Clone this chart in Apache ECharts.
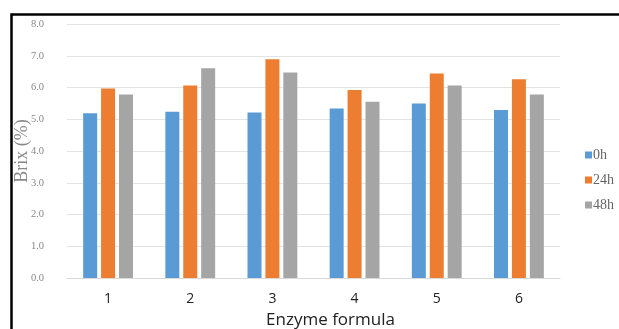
<!DOCTYPE html>
<html>
<head>
<meta charset="utf-8">
<script src="https://cdn.jsdelivr.net/npm/echarts@6/dist/echarts.min.js"></script>
<style>
  html, body { margin: 0; padding: 0; background: #fff; }
  #chart { width: 619px; height: 329px; }
</style>
</head>
<body>
<div id="chart"></div>
<script>
// Brix measured for each enzyme formula after 0, 24 and 48 hours
const categories = ['1', '2', '3', '4', '5', '6'];
const brix0h = [5.19, 5.24, 5.21, 5.34, 5.50, 5.29];
const brix24h = [5.97, 6.06, 6.89, 5.92, 6.44, 6.26];
const brix48h = [5.78, 6.61, 6.47, 5.55, 6.06, 5.78];
const seriesNames = ['0h', '24h', '48h'];
const seriesColors = ['#5B9BD5', '#ED7D31', '#A5A5A5'];

const chart = echarts.init(document.getElementById('chart'), null, { renderer: 'canvas' });

const seriesData = [brix0h, brix24h, brix48h];

chart.setOption({
  animation: false,
  backgroundColor: '#ffffff',
  graphic: [{
    type: 'rect',
    left: 9, top: 12,
    shape: { width: 700, height: 400 },
    style: { fill: 'none', stroke: '#000', lineWidth: 2.5 },
    silent: true
  }],
  grid: { left: 67, right: 59, top: 24, bottom: 51, outerBoundsMode: 'none', containLabel: false },
  legend: {
    orient: 'vertical',
    left: 580,
    top: 143,
    itemWidth: 7,
    itemHeight: 7,
    itemGap: 11,
    icon: 'rect',
    textStyle: { fontFamily: 'Liberation Serif', fontSize: 14, color: '#666', padding: [0, 0, 0, -4] },
    data: seriesNames
  },
  xAxis: {
    type: 'category',
    data: categories,
    name: 'Enzyme formula',
    nameLocation: 'middle',
    nameGap: 34,
    nameMoveOverlap: false,
    nameTextStyle: { fontFamily: 'Open Sans', fontSize: 17, color: '#222', padding: [0, 0, 0, 34] },
    axisLine: { lineStyle: { color: '#d9d9d9', width: 1 } },
    axisTick: { show: false },
    axisLabel: { fontFamily: 'Open Sans', fontSize: 14, color: '#222', margin: 14 }
  },
  yAxis: {
    type: 'value',
    min: 0, max: 8, interval: 1,
    name: 'Brix (%)',
    nameLocation: 'middle',
    nameGap: 36,
    nameMoveOverlap: false,
    nameTextStyle: { fontFamily: 'Liberation Serif', fontSize: 18, color: '#888' },
    axisLine: { show: false },
    axisTick: { show: false },
    axisLabel: {
      fontFamily: 'Liberation Serif', fontSize: 10.5, color: '#888', margin: 23,
      formatter: v => v.toFixed(1)
    },
    splitLine: { lineStyle: { color: '#e3e3e3', width: 1 } }
  },
  series: seriesNames.map((name, i) => ({
    name,
    type: 'bar',
    data: seriesData[i],
    barWidth: 14,
    barGap: '28%',
    itemStyle: { color: seriesColors[i] }
  }))
});
</script>
</body>
</html>
